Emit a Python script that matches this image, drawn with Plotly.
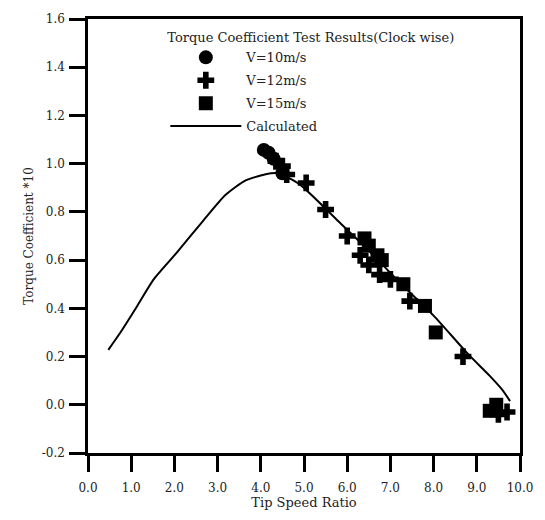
import plotly.graph_objects as go

# Calculated curve
calc_tsr = [0.47, 0.75, 1.14, 1.52, 2.05, 2.65, 3.18, 3.64, 4.09, 4.4, 4.9, 5.8, 6.5, 7.2, 8.0, 8.8, 9.3, 9.6, 9.77]
calc_cq = [0.228, 0.30, 0.41, 0.52, 0.63, 0.76, 0.87, 0.93, 0.955, 0.96, 0.914, 0.76, 0.64, 0.51, 0.37, 0.21, 0.12, 0.06, 0.015]

# Test results
v10_tsr = [4.07, 4.18, 4.3, 4.5]
v10_cq = [1.057, 1.045, 1.02, 0.96]

v12_tsr = [4.35, 4.5, 4.6, 5.05, 5.5, 6.0, 6.3, 6.5, 6.75, 7.0, 7.45, 8.68, 9.5, 9.7]
v12_cq = [1.01, 0.99, 0.955, 0.92, 0.81, 0.70, 0.62, 0.58, 0.54, 0.52, 0.43, 0.20, -0.04, -0.03]

v15_tsr = [6.4, 6.5, 6.7, 6.8, 7.3, 7.8, 8.05, 9.3, 9.45]
v15_cq = [0.69, 0.66, 0.62, 0.60, 0.50, 0.41, 0.30, -0.025, 0.0]

x_ticks = [0.0, 1.0, 2.0, 3.0, 4.0, 5.0, 6.0, 7.0, 8.0, 9.0, 10.0]
y_ticks = [-0.2, 0.0, 0.2, 0.4, 0.6, 0.8, 1.0, 1.2, 1.4, 1.6]

FONT = "DejaVu Serif"
TXT = "#222"

fig = go.Figure()
fig.add_trace(go.Scatter(x=calc_tsr, y=calc_cq, mode="lines", name="Calculated",
                         line=dict(color="black", width=2, shape="spline", smoothing=0.6),
                         legendrank=4, legendgroup="d"))
fig.add_trace(go.Scatter(x=v10_tsr, y=v10_cq, mode="markers", name="V=10m/s",
                         marker=dict(symbol="circle", size=14, color="black"), legendrank=1, legendgroup="a"))
fig.add_trace(go.Scatter(x=v12_tsr, y=v12_cq, mode="markers", name="V=12m/s",
                         marker=dict(symbol="cross", size=14, color="black"), legendrank=2, legendgroup="b"))
fig.add_trace(go.Scatter(x=v15_tsr, y=v15_cq, mode="markers", name="V=15m/s",
                         marker=dict(symbol="square", size=14, color="black"), legendrank=3, legendgroup="c"))

axis_common = dict(showline=True, linecolor="black", linewidth=2.5, mirror=True,
                   ticks="outside", ticklen=16, tickwidth=2.5, tickcolor="black",
                   showgrid=False, zeroline=False,
                   tickfont=dict(family=FONT, size=12, color=TXT))

fig.update_layout(
    width=545, height=520,
    margin=dict(l=88, r=17, t=12, b=67),
    paper_bgcolor="white", plot_bgcolor="white",
    font=dict(family=FONT, color=TXT),
    xaxis=dict(range=[0, 10], tickvals=x_ticks, ticktext=[f"{v:.1f}" for v in x_ticks],
               ticklabelstandoff=6,
               title=dict(text="Tip Speed Ratio", font=dict(family=FONT, size=13, color=TXT), standoff=2),
               **axis_common),
    yaxis=dict(range=[-0.2, 1.6], tickvals=y_ticks, ticktext=[f"{v:.1f}" for v in y_ticks],
               ticklabelstandoff=2,
               title=dict(text="Torque Coefficient *10", font=dict(family=FONT, size=12, color=TXT), standoff=6),
               **axis_common),
    legend=dict(x=0.179, y=0.985, xanchor="left", yanchor="top",
                bgcolor="rgba(0,0,0,0)", font=dict(family=FONT, size=13, color=TXT),
                title=dict(text="Torque Coefficient Test Results(Clock wise)", side="top",
                           font=dict(family=FONT, size=13, color=TXT)),
                traceorder="grouped", tracegroupgap=3, itemwidth=71),
)

fig.write_html("out.html")
